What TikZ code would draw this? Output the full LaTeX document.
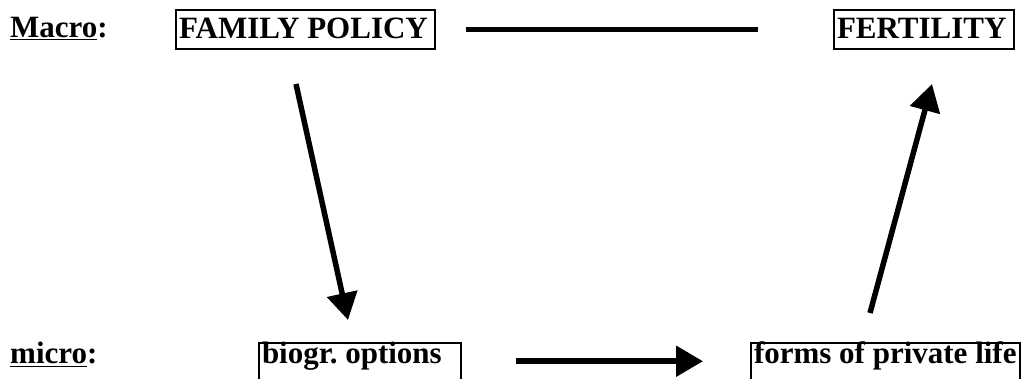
\documentclass[tikz,border=0pt]{standalone}
\usepackage{fontspec}
\setmainfont{Liberation Serif}
\usetikzlibrary{arrows.meta}
\frenchspacing
\newcommand{\fixw}[2]{\makebox[#1][l]{#2}}
\begin{document}
\begin{tikzpicture}[x=1pt,y=-1pt,
  bigfont/.style={font=\fontsize{31}{36}\selectfont\bfseries\frenchspacing},
  txt/.style={bigfont, inner sep=0pt, anchor=base west},
  topbox/.style={draw, line width=2pt, bigfont,
    inner xsep=3pt, inner ysep=0pt, text height=28pt, text depth=10.5pt, anchor=base west},
  botbox/.style={draw, line width=2pt, bigfont,
    inner xsep=3pt, inner ysep=0pt, text height=20.5pt, text depth=22pt, anchor=base west},
  conn/.style={line width=5.5pt},
  arr/.style={conn, -{Triangle[length=27pt,width=30pt]}}]
\useasboundingbox (0,0) rectangle (1021,379);
\clip (0,0) rectangle (1021,379);
\node[txt] (macro) at (10,38) {\underline{Macro}:};
\node[topbox] (fp) at (175,38.5) {\fixw{253pt}{FAMILY POLICY}};
\node[topbox] (fe) at (833,38.5) {\fixw{174pt}{FERTILITY}};
\node[txt] (micro) at (10,364) {\underline{micro}:};
\node[botbox] (bo) at (258,364) {\fixw{196pt}{biogr. options}};
\node[botbox] (fo) at (750,364) {\fixw{263pt}{forms of private life}};
\draw[conn, shorten <=30pt, shorten >=75pt] (fp.east) -- (fe.west);
\draw[arr, shorten <=54pt, shorten >=47pt] ([yshift=3.5pt]bo.east) -- ([yshift=3.5pt]fo.west);
\coordinate (d1) at (296,84);
\coordinate (d2) at (348,320);
\coordinate (u1) at (870,313);
\coordinate (u2) at (932,84);
\draw[arr] (d1) -- (d2);
\draw[arr] (u1) -- (u2);
\end{tikzpicture}
\end{document}
